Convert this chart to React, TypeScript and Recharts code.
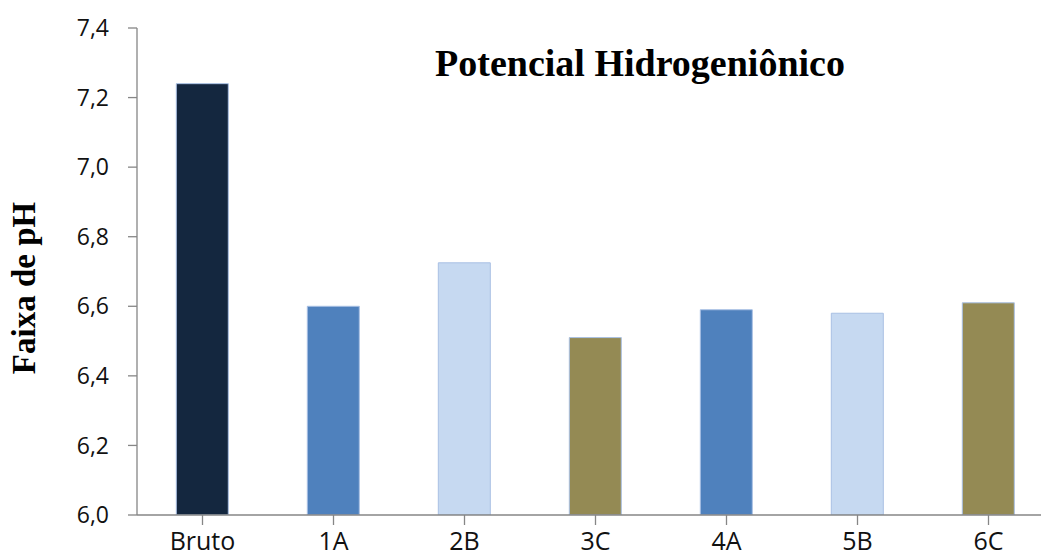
import React from "react";
import { BarChart, Bar, XAxis, YAxis, Cell } from "recharts";

// pH per sample
const categories = ["Bruto", "1A", "2B", "3C", "4A", "5B", "6C"];
const phValues = [7.24, 6.6, 6.725, 6.51, 6.59, 6.58, 6.61];
const barColors = ["#14273f", "#4f81bd", "#c6d9f1", "#948a54", "#4f81bd", "#c6d9f1", "#948a54"];
const yTicks = [6.0, 6.2, 6.4, 6.6, 6.8, 7.0, 7.2, 7.4];

const titleText = "Potencial Hidrogeniônico";
const yAxisTitle = "Faixa de pH";

const data = categories.map((name, i) => ({ name, ph: phValues[i] }));

const axisColor = "#868686";
const tickFont = "'Open Sans', 'Noto Sans', sans-serif";
const serifFont = "'Liberation Serif', 'DejaVu Serif', serif";

export default function App() {
  return (
    <div
      style={{
        position: "fixed",
        left: 0,
        top: 0,
        width: 1041,
        height: 558,
        overflow: "hidden",
        background: "#ffffff",
      }}
    >
      <BarChart
        width={1060}
        height={558}
        data={data}
        margin={{ top: 28, right: 6, bottom: 0, left: 0 }}
        barCategoryGap="30%"
      >
        <XAxis
          dataKey="name"
          axisLine={{ stroke: axisColor, strokeWidth: 1.3 }}
          tickLine={{ stroke: axisColor, strokeWidth: 1.3 }}
          tickSize={10}
          tickMargin={7}
          height={43}
          interval={0}
          tick={{ fill: "#111111", fontSize: 25, fontFamily: tickFont }}
        />
        <YAxis
          domain={[6.0, 7.4]}
          ticks={yTicks}
          allowDataOverflow
          width={137}
          axisLine={{ stroke: axisColor, strokeWidth: 1.3 }}
          tickLine={{ stroke: axisColor, strokeWidth: 1.3 }}
          tickSize={9}
          tickMargin={19}
          tickFormatter={(v: number) => v.toFixed(1).replace(".", ",")}
          tick={{ fill: "#111111", fontSize: 23, fontFamily: tickFont }}
        />
        <Bar dataKey="ph" isAnimationActive={false} stroke="#a9c0e4" strokeWidth={1}>
          {data.map((d, i) => (
            <Cell key={d.name} fill={barColors[i]} />
          ))}
        </Bar>
      </BarChart>
      <svg
        width={1041}
        height={558}
        style={{ position: "absolute", left: 0, top: 0, pointerEvents: "none" }}
      >
        <text
          x={640}
          y={76}
          textAnchor="middle"
          fontFamily={serifFont}
          fontWeight="bold"
          fontSize={38}
          fill="#000000"
        >
          {titleText}
        </text>
        <text
          x={35}
          y={288}
          textAnchor="middle"
          transform="rotate(-90 35 288)"
          fontFamily={serifFont}
          fontWeight="bold"
          fontSize={33}
          fill="#000000"
        >
          {yAxisTitle}
        </text>
      </svg>
    </div>
  );
}
